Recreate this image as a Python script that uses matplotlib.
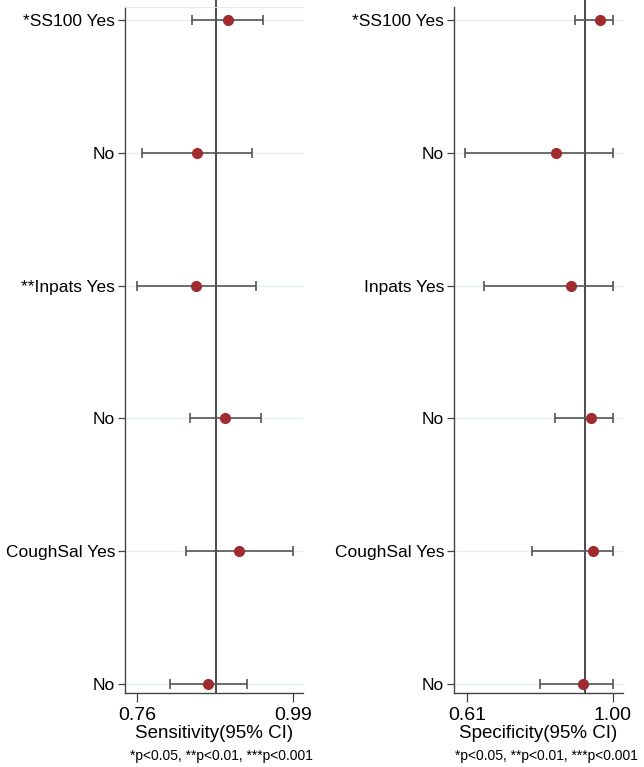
import numpy as np
import matplotlib.pyplot as plt

plt.rcParams['font.family'] = ['Liberation Sans', 'DejaVu Sans']

# subgroup rows, top to bottom
sens_labels = ["*SS100 Yes", "No", "**Inpats Yes", "No", "CoughSal Yes", "No"]
spec_labels = ["*SS100 Yes", "No", "Inpats Yes", "No", "CoughSal Yes", "No"]

# sensitivity estimates with 95% CI
sens_est = [0.894, 0.848, 0.847, 0.890, 0.910, 0.865]
sens_lo = [0.841, 0.767, 0.760, 0.838, 0.832, 0.809]
sens_hi = [0.946, 0.929, 0.935, 0.943, 0.990, 0.922]
sens_ref = 0.877

# specificity estimates with 95% CI
spec_est = [0.966, 0.848, 0.888, 0.942, 0.947, 0.920]
spec_lo = [0.899, 0.605, 0.656, 0.845, 0.784, 0.805]
spec_hi = [1.000, 1.000, 1.000, 1.000, 1.000, 1.000]
spec_ref = 0.926

footnote = "*p<0.05, **p<0.01, ***p<0.001"

W, H = 644, 767
fig = plt.figure(figsize=(W / 100, H / 100), dpi=100)


def forest(ax, labels, est, lo, hi, ref, xlim, ticks, xlabel, top_line):
    y = np.arange(len(labels))
    est = np.array(est)
    err = [est - np.array(lo), np.array(hi) - est]
    for yy in y:
        ax.axhline(yy, color='#e6efef', lw=1.0, zorder=0)
    # reference line runs up past the top of the panel
    ax.plot([ref, ref], [5.068, -0.15], color='#1a1a1a', lw=1.1,
            zorder=1, clip_on=False)
    ax.errorbar(est, y, xerr=err, fmt='none', ecolor='#555555',
                elinewidth=1.2, capsize=3.5, capthick=1.2, zorder=2)
    ax.plot(est, y, 'o', color='#a02c2f', ms=7, zorder=3)
    ax.set_ylim(5.068, -0.098)
    ax.set_xlim(*xlim)
    ax.set_yticks(y)
    ax.set_yticklabels(labels, fontsize=12.5)
    ax.set_xticks(ticks)
    ax.set_xticklabels([f"{t:.2f}" for t in ticks], fontsize=14)
    ax.set_xlabel(xlabel, fontsize=13.5, labelpad=1)
    ax.tick_params(axis='y', length=5, width=0.9, color='#444444', pad=2)
    ax.tick_params(axis='x', length=6.5, width=0.9, color='#444444', pad=3.5)
    ax.spines['right'].set_visible(False)
    if top_line:
        ax.spines['top'].set_color('#e3eeee')
    else:
        ax.spines['top'].set_visible(False)
    for s in ('left', 'bottom'):
        ax.spines[s].set_color('#444444')
        ax.spines[s].set_linewidth(1.0)


bottom = 1 - 693 / H
height = (693 - 7) / H

ax1 = fig.add_axes([125 / W, bottom, 178 / W, height])
forest(ax1, sens_labels, sens_est, sens_lo, sens_hi, sens_ref,
       (0.742, 1.005), [0.76, 0.99], "Sensitivity(95% CI)", True)

ax2 = fig.add_axes([454 / W, bottom, 169 / W, height])
forest(ax2, spec_labels, spec_est, spec_lo, spec_hi, spec_ref,
       (0.575, 1.027), [0.61, 1.00], "Specificity(95% CI)", False)

fig.text(221 / W, 1 - 756 / H, footnote, ha='center', va='center', fontsize=10)
fig.text(546 / W, 1 - 756 / H, footnote, ha='center', va='center', fontsize=10)

fig.savefig("out.png", dpi=100)
